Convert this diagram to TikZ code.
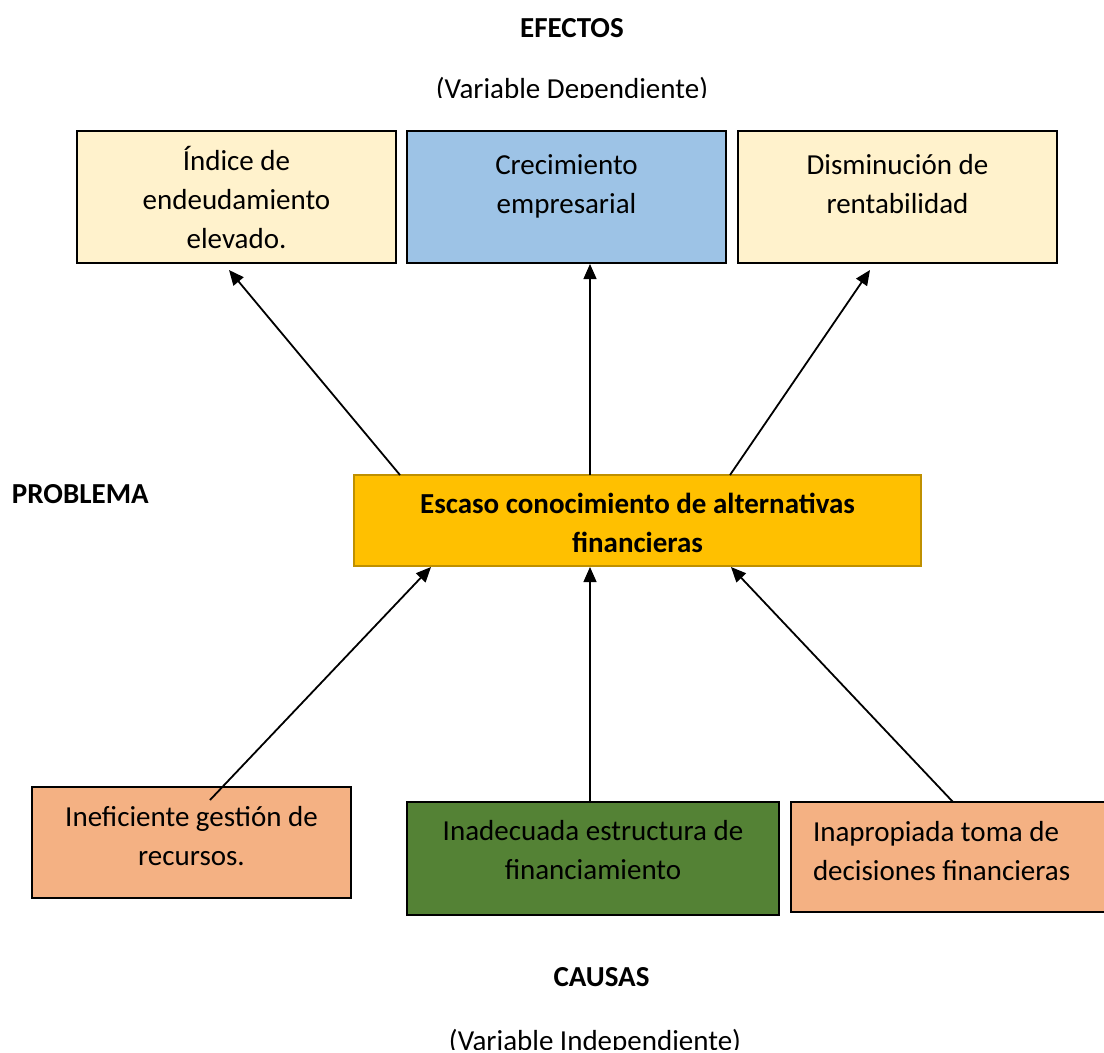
\documentclass[tikz,border=0pt]{standalone}
\usepackage{fontspec}
\setmainfont{Carlito}
\usetikzlibrary{arrows.meta}
\definecolor{lightyel}{HTML}{FFF2CC}
\definecolor{lightblue}{HTML}{9DC3E6}
\definecolor{gold}{HTML}{FFC000}
\definecolor{goldline}{HTML}{BF9000}
\definecolor{peach}{HTML}{F4B183}
\definecolor{darkgreen}{HTML}{548235}
\newcommand{\boxtext}[4]{\parbox[c][#2][t]{#1}{\centering\rule{0pt}{#3}#4\par}}
\newcommand{\boxtextleft}[5]{\parbox[c][#2][t]{#1}{\raggedright\leftskip=#4\rule{0pt}{#3}#5\par}}
\begin{document}
\begin{tikzpicture}[x=1pt,y=-1pt,
  every node/.style={font=\fontsize{29}{39}\selectfont, inner sep=0pt, outer sep=0pt},
  box/.style={draw=black, line width=2.5pt},
  link/.style={draw=black, line width=1.8pt, -{Triangle[length=15pt,width=13pt]}},
  vlink/.style={draw=black, line width=1.3pt, -{Triangle[length=15pt,width=13pt]}}]
\useasboundingbox (0,0) rectangle (1104,1053);

% effects
\node[box, fill=lightyel] (e1) at (236.5,197) {\boxtext{319pt}{132pt}{39pt}{Índice de\\endeudamiento\\elevado.}};
\node[box, fill=lightblue] (e2) at (566.5,197) {\boxtext{319pt}{132pt}{43pt}{Crecimiento\\empresarial}};
\node[box, fill=lightyel] (e3) at (897.5,197) {\boxtext{319pt}{132pt}{43pt}{Disminución de\\rentabilidad}};

% problem
\node[draw=goldline, line width=2pt, fill=gold] (p) at (637.5,520.5) {\boxtext{567pt}{91pt}{38pt}{\bfseries Escaso conocimiento de alternativas\\financieras}};

% causes
\node[box, fill=peach] (c1) at (191.5,842.5) {\boxtext{319pt}{111pt}{39pt}{Ineficiente gestión de\\recursos.}};
\node[box, fill=darkgreen] (c2) at (593,858.5) {\boxtext{372pt}{113pt}{38pt}{Inadecuada estructura de\\financiamiento}};
\node[box, fill=peach] (c3) at (958,857) {\boxtextleft{334pt}{110pt}{39pt}{22pt}{Inapropiada toma de\\decisiones financieras}};

% connectors
\draw[link] ([xshift=-237.5pt]p.north) -- ([xshift=-7.5pt,yshift=-7pt]e1.south);
\draw[vlink] ([xshift=-47.5pt]p.north) -- ([xshift=23.5pt,yshift=-1pt]e2.south);
\draw[link] ([xshift=92.5pt]p.north) -- ([xshift=-27.5pt,yshift=-7pt]e3.south);
\draw[link] ([xshift=18.5pt,yshift=-13pt]c1.north) -- ([xshift=-206.5pt,yshift=-1pt]p.south);
\draw[vlink] ([xshift=-3pt]c2.north) -- ([xshift=-47.5pt,yshift=-1pt]p.south);
\draw[link] ([xshift=-5pt]c3.north) -- ([xshift=93.5pt,yshift=-1pt]p.south);

% labels
\node[anchor=base, font=\fontsize{29}{39}\selectfont\bfseries] (ef) at (572,37) {EFECTOS};
\begin{scope}
  \clip (0,0) rectangle (1104,97.5);
  \node[anchor=base] (vd) at (572,98) {(Variable Dependiente)};
\end{scope}
\node[anchor=base west, font=\fontsize{29}{39}\selectfont\bfseries] (pr) at (12,503) {PROBLEMA};
\node[anchor=base, font=\fontsize{29}{39}\selectfont\bfseries] (ca) at (601.5,986) {CAUSAS};
\begin{scope}
  \clip (0,0) rectangle (1104,1049);
  \node[anchor=base] (vi) at (595,1050) {(Variable Independiente)};
\end{scope}
\end{tikzpicture}
\end{document}
